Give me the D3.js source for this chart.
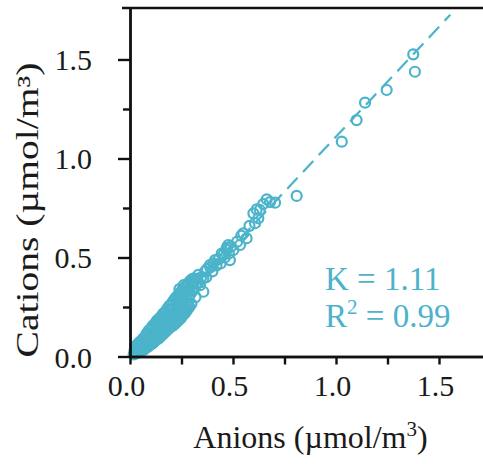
<!DOCTYPE html>
<html>
<head>
<meta charset="utf-8">
<script src="https://cdn.jsdelivr.net/npm/d3@7"></script>
<style>
  body { margin: 0; background: #fff; }
  text { font-family: "Liberation Serif", "Times New Roman", serif; }
</style>
</head>
<body>
<svg></svg>
<script>
var svg_width = 483;
var svg_height = 464;
var teal = "#4bb3ca";

// DATA - anions vs cations, umol/m3
var anions = [
  0.018, 0.022, 0.025, 0.028, 0.032, 0.035, 0.038, 0.042, 0.044, 0.048, 0.052, 0.055,
  0.058, 0.062, 0.064, 0.068, 0.072, 0.075, 0.078, 0.082, 0.08, 0.085, 0.088, 0.092, 0.09, 0.095,
  0.098, 0.102, 0.10, 0.105, 0.108, 0.112, 0.11, 0.115, 0.118, 0.122, 0.12, 0.125,
  0.128, 0.132, 0.13, 0.135, 0.138, 0.142, 0.14, 0.145, 0.148, 0.152, 0.15, 0.155,
  0.158, 0.162, 0.16, 0.165, 0.168, 0.172, 0.17, 0.175, 0.178, 0.182, 0.18, 0.185,
  0.188, 0.192, 0.19, 0.195, 0.198, 0.202, 0.20, 0.205, 0.208, 0.212, 0.21, 0.215,
  0.218, 0.222, 0.22, 0.225, 0.228, 0.232, 0.23, 0.235, 0.238, 0.242, 0.24, 0.245,
  0.248, 0.252, 0.25, 0.255, 0.258, 0.262, 0.26, 0.265, 0.268, 0.272, 0.27, 0.275,
  0.278, 0.283, 0.28, 0.285, 0.288, 0.292, 0.29, 0.298, 0.302, 0.30, 0.308, 0.316, 0.318, 0.322,
  0.105, 0.125, 0.135, 0.155, 0.165, 0.175, 0.185, 0.195, 0.205, 0.215, 0.225, 0.235, 0.245,
  0.255, 0.265, 0.275, 0.285, 0.215, 0.235, 0.255, 0.275, 0.295, 0.305, 0.325, 0.26, 0.24,
  0.31, 0.34, 0.37, 0.40, 0.42, 0.44, 0.46, 0.48, 0.49,
  0.33, 0.332, 0.345, 0.356, 0.356, 0.365, 0.374, 0.388, 0.39, 0.405, 0.413, 0.43, 0.445, 0.453,
  0.469, 0.47, 0.477, 0.485, 0.502, 0.52, 0.534, 0.54, 0.55, 0.566, 0.58, 0.599, 0.607, 0.615,
  0.623, 0.63, 0.647, 0.664, 0.68, 0.704, 0.809, 1.028, 1.100, 1.141, 1.246, 1.375, 1.383
];
var cations = [
  0.01, 0.03, 0.05, 0.015, 0.04, 0.06, 0.02, 0.045, 0.07, 0.025, 0.05, 0.08,
  0.03, 0.065, 0.09, 0.035, 0.07, 0.10, 0.045, 0.08, 0.115, 0.06, 0.05, 0.095, 0.13, 0.075,
  0.06, 0.10, 0.14, 0.085, 0.065, 0.115, 0.155, 0.09, 0.075, 0.125, 0.165, 0.10,
  0.085, 0.135, 0.18, 0.11, 0.09, 0.145, 0.19, 0.12, 0.10, 0.155, 0.20, 0.13,
  0.11, 0.165, 0.215, 0.14, 0.12, 0.18, 0.225, 0.15, 0.13, 0.19, 0.24, 0.16,
  0.14, 0.20, 0.255, 0.17, 0.15, 0.21, 0.265, 0.18, 0.155, 0.22, 0.28, 0.19,
  0.165, 0.23, 0.295, 0.20, 0.175, 0.24, 0.305, 0.21, 0.185, 0.255, 0.32, 0.22,
  0.195, 0.265, 0.33, 0.23, 0.21, 0.28, 0.345, 0.245, 0.22, 0.29, 0.355, 0.26,
  0.235, 0.252, 0.365, 0.30, 0.25, 0.315, 0.38, 0.265, 0.33, 0.39, 0.35, 0.386, 0.30, 0.37,
  0.12, 0.145, 0.16, 0.18, 0.19, 0.175, 0.215, 0.235, 0.24, 0.25, 0.27, 0.28, 0.30,
  0.31, 0.32, 0.33, 0.34, 0.17, 0.195, 0.215, 0.24, 0.355, 0.37, 0.39, 0.36, 0.34,
  0.395, 0.36, 0.40, 0.43, 0.46, 0.47, 0.50, 0.52, 0.555,
  0.37, 0.412, 0.40, 0.327, 0.395, 0.43, 0.442, 0.462, 0.45, 0.47, 0.487, 0.49, 0.52, 0.513,
  0.538, 0.55, 0.563, 0.487, 0.538, 0.58, 0.563, 0.61, 0.622, 0.597, 0.66, 0.723, 0.673, 0.743,
  0.698, 0.74, 0.770, 0.794, 0.78, 0.777, 0.811, 1.085, 1.194, 1.282, 1.346, 1.526, 1.438
];
var slope = 1.11;
var r2Label = "0.99";
var fitX = [0, 1.555];
var xTicks = [0, 0.5, 1.0, 1.5];
var xMinorTicks = [0.25, 0.75, 1.25];
var yTicks = [0, 0.5, 1.0, 1.5];
var yMinorTicks = [0.25, 0.75, 1.25];

var points = anions.map(function(a, i) { return { x: a, y: cations[i] }; });

// SCALES
var xScale = d3.scaleLinear().domain([0, 1.75]).range([130, 490.5]);
var yScale = d3.scaleLinear().domain([0, 1.76]).range([356.5, 8]);

var svg = d3.select("svg")
    .attr("width", svg_width)
    .attr("height", svg_height);

// fit line (dashed)
var line = d3.line()
    .x(function(d) { return xScale(d); })
    .y(function(d) { return yScale(d * slope); });

svg.append("path")
    .datum(fitX)
    .attr("d", line)
    .attr("fill", "none")
    .attr("stroke", teal)
    .attr("stroke-width", 2.2)
    .attr("stroke-dasharray", "15,8");

// points
svg.append("g")
  .selectAll("circle")
  .data(points)
  .enter()
  .append("circle")
    .attr("cx", function(d) { return xScale(d.x); })
    .attr("cy", function(d) { return yScale(d.y); })
    .attr("r", 5)
    .attr("fill", "none")
    .attr("stroke", teal)
    .attr("stroke-width", 2.2);

// AXES
var xAxis = d3.axisBottom(xScale).tickValues(xTicks).tickSize(8).tickSizeOuter(0).tickFormat(d3.format(".1f"));
var xMinor = d3.axisBottom(xScale).tickValues(xMinorTicks).tickSize(8).tickSizeOuter(0).tickFormat("");
var yAxis = d3.axisLeft(yScale).tickValues(yTicks).tickSize(12).tickSizeOuter(0).tickFormat(d3.format(".1f"));
var yMinor = d3.axisLeft(yScale).tickValues(yMinorTicks).tickSize(7).tickSizeOuter(0).tickFormat("");

var gx = svg.append("g").attr("transform", "translate(0," + yScale(0) + ")").call(xAxis);
svg.append("g").attr("transform", "translate(0," + yScale(0) + ")").call(xMinor);
var gy = svg.append("g").attr("transform", "translate(" + xScale(0) + ",0)").call(yAxis);
svg.append("g").attr("transform", "translate(" + xScale(0) + ",0)").call(yMinor);

svg.selectAll(".domain").attr("stroke", "#111").attr("stroke-width", 2.4);
svg.selectAll(".tick line").attr("stroke", "#111").attr("stroke-width", 2.4);

gx.selectAll(".tick text")
    .attr("y", 0).attr("dy", 0)
    .attr("transform", "translate(-4,39)")
    .attr("font-size", "30px")
    .attr("fill", "#1a1a1a");
gy.selectAll(".tick text")
    .attr("x", -38).attr("dy", "0.35em")
    .attr("font-size", "30px")
    .attr("fill", "#1a1a1a");

// top frame line
svg.append("line")
    .attr("x1", 122).attr("x2", svg_width)
    .attr("y1", yScale(1.76)).attr("y2", yScale(1.76))
    .attr("stroke", "#111").attr("stroke-width", 2.4);

// AXES LABELS
var xl = svg.append("text")
    .attr("x", 310.5)
    .attr("y", 448)
    .attr("font-size", "32px")
    .attr("fill", "#1a1a1a")
    .style("text-anchor", "middle");
xl.append("tspan").text("Anions (µmol/m");
xl.append("tspan").attr("font-size", "21px").attr("dy", "-12").text("3");
xl.append("tspan").attr("dy", "12").text(")");

var yl = svg.append("text")
    .attr("transform", "translate(38,210) rotate(-90)")
    .attr("font-size", "31px")
    .attr("fill", "#1a1a1a")
    .attr("textLength", 295)
    .attr("lengthAdjust", "spacingAndGlyphs")
    .style("text-anchor", "middle")
    .text("Cations (µmol/m³)");

// annotation
svg.append("text")
    .attr("x", 325).attr("y", 290)
    .attr("font-size", "33px")
    .attr("fill", teal)
    .text("K = " + slope.toFixed(2));

var r2 = svg.append("text")
    .attr("x", 325).attr("y", 327)
    .attr("font-size", "33px")
    .attr("fill", teal);
r2.append("tspan").text("R");
r2.append("tspan").attr("font-size", "21px").attr("dy", "-13").text("2");
r2.append("tspan").attr("dy", "13").text(" = " + r2Label);
</script>
</body>
</html>
